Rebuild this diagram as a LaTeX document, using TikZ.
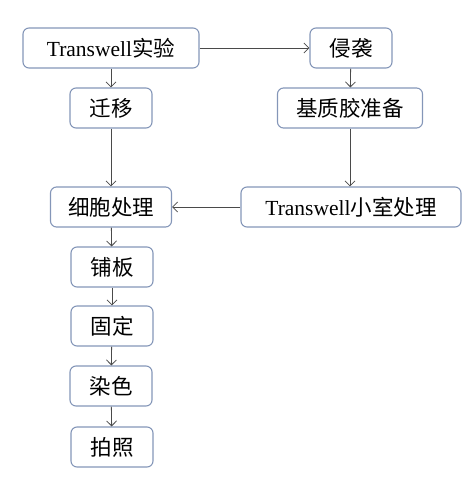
\documentclass[tikz,border=0pt]{standalone}
\usepackage{fontspec}
\setmainfont{Liberation Serif}
\newfontfamily\cjk{Noto Sans CJK SC}
\usepackage{tikz}
\usetikzlibrary{arrows.meta}

\definecolor{boxline}{HTML}{8496B8}
\definecolor{arrline}{HTML}{4A4A4A}

\begin{document}
\begin{tikzpicture}[x=1pt,y=-1pt,
        stepbox/.style={draw=boxline,line width=1.1pt,rounded corners=6pt,minimum height=40pt,inner sep=0pt,font=\fontsize{21.5}{24}\selectfont},
        link/.style={-{Straight Barb[length=5pt,width=10pt]},arrline,line width=0.8pt}]
        \useasboundingbox (0,0) rectangle (476,495);

        % Top row
        \node[stepbox,minimum width=176pt] (transwell) at (111,48) {Transwell{\cjk 实验}};
        \node[stepbox,minimum width=82pt] (invade) at (351,48) {\cjk 侵袭};

        % Second row
        \node[stepbox,minimum width=82pt] (migrate) at (111,108) {\cjk 迁移};
        \node[stepbox,minimum width=145pt] (matrigel) at (350,108) {\cjk 基质胶准备};

        % Third row
        \node[stepbox,minimum width=121pt] (cells) at (111,207) {\cjk 细胞处理};
        \node[stepbox,minimum width=220pt] (chamber) at (351,207) {Transwell{\cjk 小室处理}};

        % Left column
        \node[stepbox,minimum width=82pt] (plate) at (112,267) {\cjk 铺板};
        \node[stepbox,minimum width=82pt] (fix) at (112,326) {\cjk 固定};
        \node[stepbox,minimum width=82pt] (stain) at (111,386) {\cjk 染色};
        \node[stepbox,minimum width=82pt] (photo) at (112,447) {\cjk 拍照};

        % Arrows
        \draw[link] (transwell) -- (invade);
        \draw[link] (transwell) -- (migrate);
        \draw[link] (invade) -- (matrigel);
        \draw[link] (migrate) -- (cells);
        \draw[link] (matrigel) -- (matrigel |- chamber.north);
        \draw[link] (chamber) -- (cells);
        \draw[link] (cells) -- (plate);
        \draw[link] (plate) -- (fix);
        \draw[link] (fix) -- (stain);
        \draw[link] (stain) -- (photo);
\end{tikzpicture}
\end{document}
